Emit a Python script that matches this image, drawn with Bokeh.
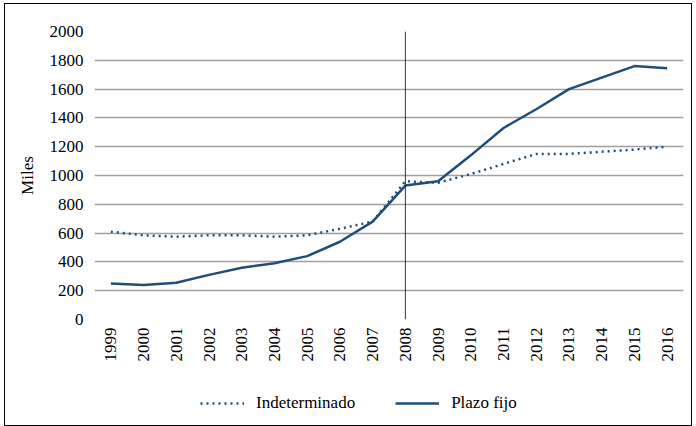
from bokeh.plotting import figure
from bokeh.models import FixedTicker, Legend, LegendItem, Range1d, Span
from bokeh.layouts import column
from bokeh.embed import file_html
from bokeh.resources import INLINE
import math

years = [1999, 2000, 2001, 2002, 2003, 2004, 2005, 2006, 2007, 2008,
         2009, 2010, 2011, 2012, 2013, 2014, 2015, 2016]
indeterminado = [610, 585, 575, 585, 585, 575, 585, 630, 680, 960,
                 950, 1010, 1080, 1150, 1150, 1165, 1180, 1200]
plazo_fijo = [250, 240, 255, 310, 360, 390, 440, 540, 680, 930,
              960, 1140, 1330, 1460, 1600, 1680, 1760, 1745]
y_ticks = [0, 200, 400, 600, 800, 1000, 1200, 1400, 1600, 1800, 2000]
marker_year = 2008
series_names = ["Indeterminado", "Plazo fijo"]

FONT = "Liberation Serif"
BLUE = "#1f4e79"
DOT = "2 4"

p = figure(width=686, height=371, output_backend="svg", toolbar_location=None,
           x_range=Range1d(years[0] - 0.5, years[-1] + 0.5),
           y_range=Range1d(y_ticks[0], y_ticks[-1]),
           min_border_left=89, min_border_right=8, min_border_top=27, min_border_bottom=56)
p.outline_line_color = None
p.background_fill_color = "white"
p.border_fill_color = "white"

for ax in (p.xaxis[0], p.yaxis[0]):
    ax.axis_line_color = None
    ax.major_tick_line_color = None
    ax.minor_tick_line_color = None
    ax.major_tick_in = 0
    ax.major_tick_out = 0
    ax.minor_tick_in = 0
    ax.minor_tick_out = 0
    ax.major_label_text_font = FONT
    ax.major_label_text_font_size = "17px"
    ax.major_label_text_color = "black"

p.xaxis.ticker = FixedTicker(ticks=years)
p.xaxis.major_label_orientation = math.pi / 2
p.xaxis.major_label_standoff = 8

p.yaxis.ticker = FixedTicker(ticks=y_ticks)
p.yaxis.major_label_standoff = 11
p.yaxis.axis_label = "Miles"
p.yaxis.axis_label_text_font = FONT
p.yaxis.axis_label_text_font_size = "17px"
p.yaxis.axis_label_text_font_style = "normal"
p.yaxis.axis_label_text_color = "black"
p.yaxis.axis_label_standoff = 10

p.xgrid.grid_line_color = None
p.ygrid.ticker = FixedTicker(ticks=y_ticks)
p.ygrid.grid_line_color = "#a0a0a0"
p.ygrid.grid_line_width = 1.5

p.add_layout(Span(location=marker_year, dimension="height",
                  line_color="#333333", line_width=1))

p.line(years, indeterminado, line_color=BLUE, line_width=2.5, line_dash=DOT)
p.line(years, plazo_fijo, line_color=BLUE, line_width=2.5)

# legend strip below the chart
lg = figure(width=686, height=50, output_backend="svg", toolbar_location=None,
            x_range=Range1d(0, 1), y_range=Range1d(0, 1),
            min_border_left=0, min_border_right=0, min_border_top=0, min_border_bottom=0)
lg.axis.visible = False
lg.grid.visible = False
lg.outline_line_color = None
lg.border_fill_color = "white"
lg.background_fill_color = "white"
nan = float("nan")
k1 = lg.line([nan], [nan], line_color=BLUE, line_width=2.5, line_dash=DOT)
k2 = lg.line([nan], [nan], line_color=BLUE, line_width=2.5)

legend = Legend(items=[LegendItem(label=series_names[0], renderers=[k1]),
                       LegendItem(label=series_names[1], renderers=[k2])],
                orientation="horizontal", location=(106, 12))
legend.label_text_font = FONT
legend.label_text_font_size = "17px"
legend.label_text_color = "black"
legend.glyph_width = 44
legend.label_standoff = 12
legend.spacing = 40
legend.padding = 4
legend.margin = 0
legend.border_line_color = None
legend.background_fill_alpha = 0
lg.add_layout(legend)

layout = column(p, lg, spacing=0,
                styles={"border": "1px solid black", "margin": "3px 0 0 4px"})
open("out.html", "w").write(file_html(layout, INLINE))
